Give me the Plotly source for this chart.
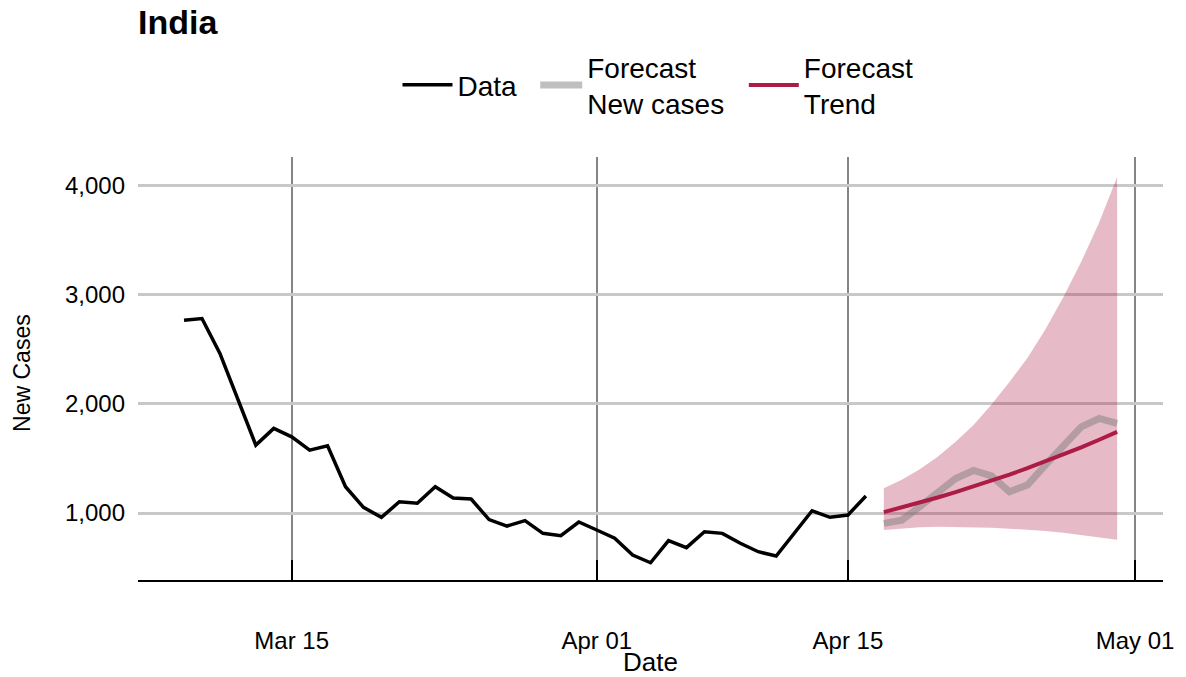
import pandas as pd
import plotly.graph_objects as go

# ---- data ----
data_dates = pd.date_range("2023-03-09", "2023-04-16", freq="D")
data_cases = [2765, 2781, 2461, 2049, 1622, 1775, 1698, 1576, 1616, 1241,
              1052, 961, 1103, 1090, 1241, 1137, 1128, 940, 881, 930,
              814, 793, 918, 845, 769, 616, 545, 747, 683, 829,
              814, 723, 646, 607, 817, 1021, 961, 982, 1156]

fc_dates = pd.date_range("2023-04-17", "2023-04-30", freq="D")
fc_cases = [905, 935, 1058, 1195, 1317, 1390, 1340, 1195, 1256, 1439,
            1622, 1789, 1866, 1820]
fc_trend = [1008, 1050, 1095, 1142, 1191, 1243, 1296, 1352, 1411, 1472,
            1535, 1601, 1671, 1743]
fc_upper = [1226, 1305, 1402, 1515, 1652, 1806, 1994, 2200, 2420, 2680,
            2975, 3300, 3660, 4076]
fc_lower = [845, 860, 870, 875, 873, 870, 865, 857, 847, 835,
            820, 800, 780, 755]

tick_dates = ["2023-03-15", "2023-04-01", "2023-04-15", "2023-05-01"]
y_ticks = [1000, 2000, 3000, 4000]

FONT = "Liberation Sans, Arial, sans-serif"
TREND = "#AC1C44"

fig = go.Figure()

# ribbon
fig.add_trace(go.Scatter(x=list(fc_dates), y=fc_lower, mode="lines",
                         line=dict(width=0), showlegend=False, hoverinfo="skip"))
fig.add_trace(go.Scatter(x=list(fc_dates), y=fc_upper, mode="lines",
                         line=dict(width=0), fill="tonexty",
                         fillcolor="rgba(172,28,68,0.3)", showlegend=False,
                         hoverinfo="skip"))

fig.add_trace(go.Scatter(x=list(data_dates), y=data_cases, mode="lines",
                         name="Data", legend="legend",
                         line=dict(color="black", width=3.5)))
fig.add_trace(go.Scatter(x=list(fc_dates), y=fc_cases, mode="lines",
                         name="Forecast<br>New cases", legend="legend2",
                         line=dict(color="rgba(127,127,127,0.5)", width=7)))
fig.add_trace(go.Scatter(x=list(fc_dates), y=fc_trend, mode="lines",
                         name="Forecast<br>Trend", legend="legend3",
                         line=dict(color=TREND, width=4)))


def leg(px, iw=50):
    return dict(orientation="h", x=(px - 138) / 1027, xref="paper",
                xanchor="left", y=1 - 85 / 677, yref="container",
                yanchor="middle", font=dict(size=28, family=FONT, color="black"),
                itemwidth=iw, traceorder="normal", valign="middle",
                bgcolor="rgba(0,0,0,0)", borderwidth=0)


fig.update_layout(
    width=1186, height=677,
    paper_bgcolor="white", plot_bgcolor="white",
    margin=dict(l=138, r=21, t=157, b=97),
    font=dict(family=FONT, size=24, color="black"),
    title=dict(text="<b>India</b>", x=0, xref="paper", xanchor="left",
               y=1 - 22 / 677, yref="container", yanchor="middle",
               font=dict(size=34, family=FONT, color="black")),
    legend=leg(398),
    legend2=leg(536, 42),
    legend3=leg(745),
    showlegend=True,
)

fig.update_xaxes(
    range=["2023-03-06 10:26", "2023-05-02 13:22"],
    tickvals=tick_dates, tickformat="%b %d",
    showgrid=True, gridcolor="#858585", gridwidth=2,
    ticks="inside", ticklen=20, tickwidth=2, tickcolor="black",
    showline=True, linecolor="black", linewidth=2,
    ticklabelstandoff=38, zeroline=False,
    tickfont=dict(size=24, color="black"),
)
fig.update_yaxes(
    range=[387, 4260],
    tickvals=y_ticks, tickformat=",d",
    showgrid=True, gridcolor="#c8c8c8", gridwidth=3,
    showline=False, zeroline=False, ticks="",
    ticklabelstandoff=12,
    tickfont=dict(size=24, color="black"),
)

fig.add_annotation(text="Date", xref="paper", yref="paper", x=0.5, y=-0.195,
                   xanchor="center", yanchor="middle", showarrow=False,
                   font=dict(size=26, family=FONT, color="black"))
fig.add_annotation(text="New Cases", xref="paper", yref="paper", x=-0.113, y=0.49,
                   xanchor="center", yanchor="middle", showarrow=False,
                   textangle=-90, font=dict(size=23, family=FONT, color="black"))

fig.write_html("out.html")
